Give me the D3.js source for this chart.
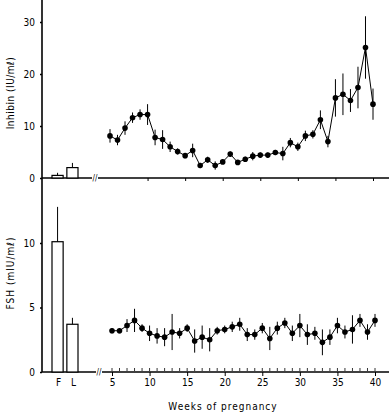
<!DOCTYPE html>
<html>
<head>
<meta charset="utf-8">
<script src="https://cdn.jsdelivr.net/npm/d3@7"></script>
<style>
  body { margin: 0; background: #fff; }
  text { font-family: "DejaVu Sans Condensed", "DejaVu Sans", sans-serif; fill: #000; }
</style>
</head>
<body>
<script>
const svgWidth = 389
const svgHeight = 418

// weeks of pregnancy
const weeks = [5, 6, 7, 8, 9, 10, 11, 12, 13, 14, 15, 16, 17, 18, 19, 20, 21, 22,
  23, 24, 25, 26, 27, 28, 29, 30, 31, 32, 33, 34, 35, 36, 37, 38, 39, 40]

const inhibin = [8.1, 7.3, 9.6, 11.6, 12.2, 12.2, 7.8, 7.4, 6.0, 5.1, 4.3, 5.3, 2.4, 3.5, 2.4, 3.1, 4.6, 3.0,
  3.6, 4.2, 4.4, 4.4, 4.9, 4.7, 6.8, 6.0, 8.1, 8.4, 11.2, 7.0, 15.4, 16.1, 14.9, 17.4, 25.1, 14.2]
const inhibinErr = [1.3, 1.0, 1.3, 1.0, 1.0, 2.0, 1.5, 1.8, 1.0, 0.6, 0.5, 1.3, 0.5, 0.6, 0.8, 0.4, 0.5, 0.4,
  0.5, 0.8, 0.5, 0.5, 0.5, 1.3, 0.9, 0.8, 1.0, 0.8, 1.8, 1.1, 3.6, 4.0, 2.2, 4.0, 6.0, 3.0]

const fsh = [3.2, 3.2, 3.6, 4.0, 3.4, 3.0, 2.8, 2.7, 3.1, 3.0, 3.4, 2.4, 2.7, 2.5, 3.2, 3.3, 3.5, 3.7,
  2.9, 2.9, 3.4, 2.6, 3.4, 3.8, 3.0, 3.6, 2.9, 3.0, 2.3, 2.7, 3.6, 3.1, 3.3, 4.0, 3.1, 4.0]
const fshErr = [0.2, 0.2, 0.5, 0.9, 0.3, 0.6, 0.6, 0.7, 1.4, 0.4, 0.3, 0.9, 0.9, 0.9, 0.3, 0.3, 0.4, 0.5,
  0.5, 0.4, 0.4, 0.9, 0.5, 0.4, 0.6, 0.9, 0.8, 0.5, 1.0, 0.6, 0.6, 0.5, 1.1, 0.5, 0.6, 0.5]

// non-pregnant cycle: follicular (F) and luteal (L) phase
const phases = ["F", "L"]
const phaseInhibin = [0.5, 2.0]
const phaseInhibinErr = [0.5, 0.9]
const phaseFsh = [10.1, 3.7]
const phaseFshErr = [2.7, 0.5]

const inhibinTicks = [0, 10, 20, 30]
const fshTicks = [0, 5, 10]
const weekTicks = [5, 10, 15, 20, 25, 30, 35, 40]

const axisX = 42

const svg = d3.select("body").append("svg")
  .attr("width", svgWidth)
  .attr("height", svgHeight)

const xPhase = d3.scaleBand().domain(phases).range([52, 78]).paddingInner(0.25)

const yInh = d3.scaleLinear().domain([0, 30]).range([178, 22])
const yFsh = d3.scaleLinear().domain([0, 10]).range([372, 243])

// y axis line, continuous through both panels
svg.append("line")
  .attr("x1", axisX).attr("x2", axisX)
  .attr("y1", 0).attr("y2", 372)
  .attr("stroke", "#000").attr("stroke-width", 1.6)

function drawPanel(g, x, y, ticks, values, errs, pVals, pErrs, breakX, showLabels) {
  const yAxis = d3.axisLeft(y).tickValues(ticks).tickSize(2).tickPadding(5)
  const ya = g.append("g")
    .attr("transform", `translate(${axisX}, 0)`)
    .call(yAxis)
  ya.select(".domain").remove()
  ya.selectAll("line").attr("stroke-width", 1.5)
  ya.selectAll("text").attr("font-size", 10)

  // x axis, broken
  const y0 = y(0)
  g.append("line")
    .attr("x1", axisX).attr("x2", breakX - 3)
    .attr("y1", y0).attr("y2", y0)
    .attr("stroke", "#000").attr("stroke-width", 1.4)
  g.append("line")
    .attr("x1", breakX + 3).attr("x2", svgWidth)
    .attr("y1", y0).attr("y2", y0)
    .attr("stroke", "#000").attr("stroke-width", 1.6)
  g.append("text")
    .attr("x", breakX).attr("y", y0 + 3)
    .attr("text-anchor", "middle")
    .attr("font-size", 8)
    .text("//")

  const xAxis = d3.axisBottom(x).tickValues(showLabels ? weekTicks : weekTicks.slice(1))
    .tickSize(showLabels ? 4 : 3).tickPadding(3)
    .tickFormat(showLabels ? d3.format("d") : "")
  const xa = g.append("g")
    .attr("transform", `translate(0, ${y0})`)
    .call(xAxis)
  xa.select(".domain").remove()
  xa.selectAll("text").attr("font-size", 10)

  // phase bars
  g.selectAll(".pbar")
    .data(phases)
    .enter()
    .append("rect")
    .attr("x", d => xPhase(d))
    .attr("width", xPhase.bandwidth())
    .attr("y", (d, i) => y(pVals[i]))
    .attr("height", (d, i) => y0 - y(pVals[i]))
    .attr("fill", "#fff")
    .attr("stroke", "#000")
    .attr("stroke-width", 1.2)

  g.selectAll(".perr")
    .data(phases)
    .enter()
    .append("line")
    .attr("x1", d => xPhase(d) + xPhase.bandwidth() / 2)
    .attr("x2", d => xPhase(d) + xPhase.bandwidth() / 2)
    .attr("y1", (d, i) => y(pVals[i]))
    .attr("y2", (d, i) => y(pVals[i] + pErrs[i]))
    .attr("stroke", "#000")
    .attr("stroke-width", 1)

  // error bars
  g.selectAll(".err")
    .data(weeks)
    .enter()
    .append("line")
    .attr("x1", d => x(d)).attr("x2", d => x(d))
    .attr("y1", (d, i) => y(values[i] - errs[i]))
    .attr("y2", (d, i) => y(values[i] + errs[i]))
    .attr("stroke", "#000")
    .attr("stroke-width", 1)

  const line = d3.line()
    .x(d => x(d))
    .y((d, i) => y(values[i]))

  g.append("path")
    .datum(weeks)
    .attr("d", line)
    .attr("fill", "none")
    .attr("stroke", "#000")
    .attr("stroke-width", 1)

  g.selectAll(".pt")
    .data(weeks)
    .enter()
    .append("circle")
    .attr("cx", d => x(d))
    .attr("cy", (d, i) => y(values[i]))
    .attr("r", 2.8)
    .attr("fill", "#000")
}

// the top panel sits a couple of pixels left of the bottom one in the scan
const xTop = d3.scaleLinear().domain([5, 40]).range([110, 373])
const xBot = d3.scaleLinear().domain([5, 40]).range([112, 375])

const topG = svg.append("g")
drawPanel(topG, xTop, yInh, inhibinTicks, inhibin, inhibinErr, phaseInhibin, phaseInhibinErr, 95, false)

const botG = svg.append("g")
drawPanel(botG, xBot, yFsh, fshTicks, fsh, fshErr, phaseFsh, phaseFshErr, 99, true)

// small marks above bottom axis
botG.selectAll(".nmark")
  .data(weeks)
  .enter()
  .append("line")
  .attr("x1", d => xBot(d)).attr("x2", d => xBot(d))
  .attr("y1", yFsh(0) - 1).attr("y2", yFsh(0) - 4)
  .attr("stroke", "#000")
  .attr("stroke-width", 0.8)

// F / L labels
botG.selectAll(".plab")
  .data(phases)
  .enter()
  .append("text")
  .attr("x", d => xPhase(d) + xPhase.bandwidth() / 2 + 1)
  .attr("y", 386)
  .attr("text-anchor", "middle")
  .attr("font-size", 10)
  .text(d => d)

svg.append("text")
  .attr("x", 223).attr("y", 410)
  .attr("text-anchor", "middle")
  .attr("font-size", 10)
  .attr("letter-spacing", 1)
  .text("Weeks of pregnancy")

svg.append("text")
  .attr("transform", "translate(14, 93) rotate(-90)")
  .attr("text-anchor", "middle")
  .attr("font-size", 10)
  .attr("letter-spacing", 0.5)
  .text("Inhibin (IU/mℓ)")

svg.append("text")
  .attr("transform", "translate(14, 273) rotate(-90)")
  .attr("text-anchor", "middle")
  .attr("font-size", 10)
  .attr("letter-spacing", 1)
  .text("FSH (mIU/mℓ)")
</script>
</body>
</html>
